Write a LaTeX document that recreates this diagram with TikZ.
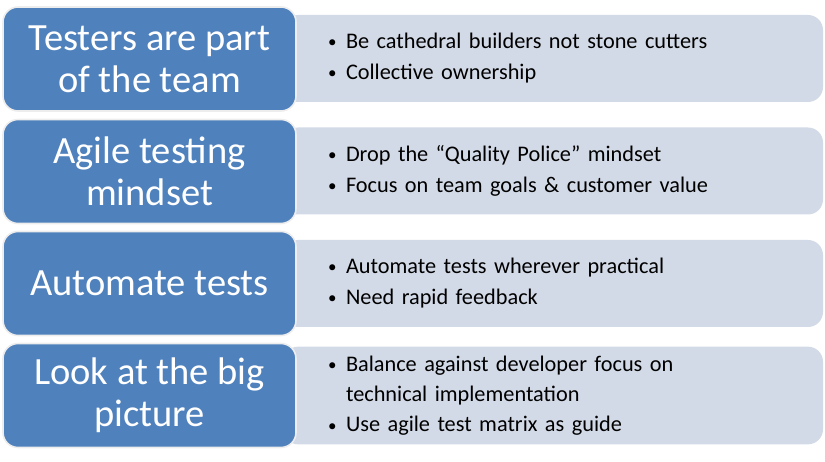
\documentclass[tikz,border=0pt]{standalone}
\usepackage{fontspec}
\setmainfont{Carlito}
\definecolor{capblue}{HTML}{4F81BD}
\definecolor{ptsgrey}{HTML}{D3DAE7}
\newcommand{\ptsdot}{\raisebox{1pt}{\fontsize{17}{17}\selectfont\textbullet}}
\newcommand{\ptslist}[1]{\begin{tabular}{@{}p{18pt}@{}l@{}}#1\end{tabular}}
\begin{document}
\begin{tikzpicture}[x=1pt,y=-1pt]
        \tikzstyle{capbox} = [rectangle, rounded corners=15pt, fill=capblue, draw=black!7, line width=1.6pt, text=white, align=center, font=\fontsize{38.5}{42}\selectfont, minimum width=293pt, minimum height=104pt]
        \tikzstyle{ptsbox} = [rectangle, rounded corners=15pt, fill=ptsgrey, text=black, text width=450pt, inner xsep=45pt, minimum height=87pt, font=\fontsize{22.3}{30}\selectfont]
        \useasboundingbox (0,0) rectangle (825,462);
        % grey boxes with the bullet points
        \node[ptsbox] (teampts) at (553,58.5) {\ptslist{\ptsdot & Be cathedral builders not stone cutters\\[1pt] \ptsdot & Collective ownership}};
        \node[ptsbox] (mindpts) at (553,171) {\ptslist{\ptsdot & Drop the “Quality Police” mindset\\[1pt] \ptsdot & Focus on team goals \& customer value}};
        \node[ptsbox] (autopts) at (553,283.5) {\ptslist{\ptsdot & Automate tests wherever practical\\[1pt] \ptsdot & Need rapid feedback}};
        \node[ptsbox] (bigpts) at (553,395.5) {\ptslist{\ptsdot & Balance against developer focus on\\ & technical implementation\\[1pt] \ptsdot & Use agile test matrix as guide}};
        % blue caption boxes
        \node[capbox] (team) at (149.5,59) {Testers are part\\of the team};
        \node[capbox] (mind) at (149.5,171.5) {Agile testing\\mindset};
        \node[capbox] (auto) at (149.5,283.5) {Automate tests};
        \node[capbox] (big) at (149.5,395.5) {Look at the big\\picture};
    \end{tikzpicture}
\end{document}
